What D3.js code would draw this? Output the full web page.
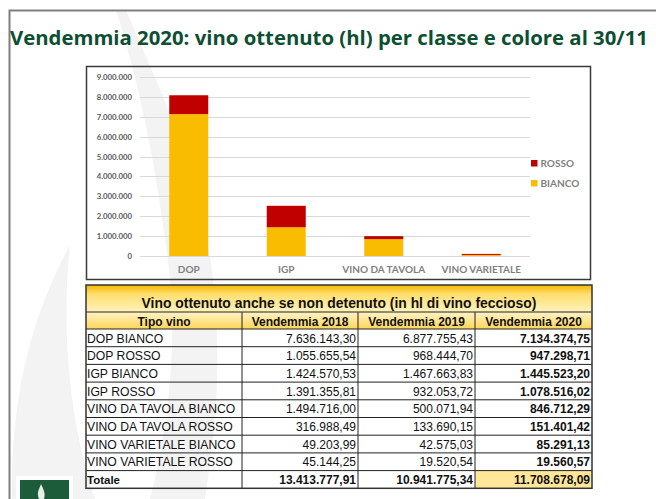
<!DOCTYPE html>
<html>
<head>
<meta charset="utf-8">
<script src="https://cdn.jsdelivr.net/npm/d3@7"></script>
<style>
  body { margin: 0; background: #fff; }
  svg { display: block; }
</style>
</head>
<body>
<div id="slide"></div>
<script>
// chart data (hl, vendemmia 2020)
const categories = ["DOP", "IGP", "VINO DA TAVOLA", "VINO VARIETALE"];
const bianco = [7134374.75, 1445523.20, 846712.29, 85291.13];
const rosso = [947298.71, 1078516.02, 151401.42, 19560.57];
const yTicks = [0, 1e6, 2e6, 3e6, 4e6, 5e6, 6e6, 7e6, 8e6, 9e6];

// table data
const tipoVino = ["DOP BIANCO", "DOP ROSSO", "IGP BIANCO", "IGP ROSSO",
  "VINO DA TAVOLA BIANCO", "VINO DA TAVOLA ROSSO", "VINO VARIETALE BIANCO", "VINO VARIETALE ROSSO"];
const vend2018 = [7636143.30, 1055655.54, 1424570.53, 1391355.81, 1494716.00, 316988.49, 49203.99, 45144.25];
const vend2019 = [6877755.43, 968444.70, 1467663.83, 932053.72, 500071.94, 133690.15, 42575.03, 19520.54];
const vend2020 = [7134374.75, 947298.71, 1445523.20, 1078516.02, 846712.29, 151401.42, 85291.13, 19560.57];
const totali = [13413777.91, 10941775.34, 11708678.09];
const colHeaders = ["Tipo vino", "Vendemmia 2018", "Vendemmia 2019", "Vendemmia 2020"];

const width = 656, height = 499;
const it = d3.formatLocale({decimal: ",", thousands: ".", grouping: [3], currency: ["€", ""]});
const fmtInt = it.format(",.0f");
const fmtDec = it.format(",.2f");

const svg = d3.select("#slide").append("svg")
    .attr("width", width)
    .attr("height", height);

const defs = svg.append("defs");

// faint watermark flames in the background
const wm = svg.append("g").attr("fill", "#f3f3f3");
wm.append("path")
    .attr("d", "M126,10 C150,70 205,170 215,300 C222,390 212,450 205,499 L150,499 C170,420 180,330 165,240 C155,160 138,80 116,10 Z");
wm.append("path")
    .attr("d", "M70,245 C40,300 10,380 12,499 L95,499 C72,430 60,340 70,245 Z");

// slide frame
svg.append("path")
    .attr("d", "M9.5,499 L9.5,10.5 L656,10.5")
    .attr("fill", "none")
    .attr("stroke", "#7f7f7f")
    .attr("stroke-width", 2);

// title
svg.append("text")
    .attr("x", 10)
    .attr("y", 45)
    .attr("font-family", "'Open Sans', sans-serif")
    .attr("font-weight", 700)
    .attr("font-size", 19.5)
    .attr("fill", "#0d4f32")
    .attr("textLength", 638)
    .attr("lengthAdjust", "spacingAndGlyphs")
    .text("Vendemmia 2020: vino ottenuto (hl) per classe e colore al 30/11");

// ---- stacked bar chart ----
const chartBox = {x: 86.5, y: 66.5, w: 504, h: 213};
svg.append("rect")
    .attr("x", chartBox.x).attr("y", chartBox.y)
    .attr("width", chartBox.w).attr("height", chartBox.h)
    .attr("fill", "none")
    .attr("stroke", "#3a3a3a")
    .attr("stroke-width", 1.5);

const x = d3.scaleBand()
    .domain(categories)
    .range([140, 530])
    .paddingInner(0.6)
    .paddingOuter(0.3);

const y = d3.scaleLinear()
    .domain([0, 9e6])
    .range([256, 77]);

const grid = svg.append("g");
grid.selectAll("line")
    .data(yTicks)
    .join("line")
    .attr("x1", 140).attr("x2", 530)
    .attr("y1", d => Math.round(y(d)) + 0.5)
    .attr("y2", d => Math.round(y(d)) + 0.5)
    .attr("stroke", "#d9d9d9");

const yAxis = svg.append("g")
    .attr("transform", "translate(132,0)")
    .call(d3.axisLeft(y).tickValues(yTicks).tickFormat(fmtInt).tickSize(0).tickPadding(0));
yAxis.select(".domain").remove();
yAxis.selectAll("text")
    .attr("font-family", "Lato, sans-serif")
    .attr("font-weight", "bold")
    .attr("font-size", 7.8)
    .attr("fill", "#595959");

const series = [
  {name: "BIANCO", values: bianco, color: "#f9bc00"},
  {name: "ROSSO", values: rosso, color: "#c00000"}
];
const stackData = categories.map((c, i) => ({cat: c, BIANCO: bianco[i], ROSSO: rosso[i]}));
const stacked = d3.stack().keys(series.map(s => s.name))(stackData);

const bars = svg.append("g");
bars.selectAll("g")
    .data(stacked)
    .join("g")
    .attr("fill", (d, i) => series[i].color)
    .selectAll("rect")
    .data(d => d)
    .join("rect")
    .attr("x", d => x(d.data.cat))
    .attr("width", x.bandwidth())
    .attr("y", d => y(d[1]))
    .attr("height", d => Math.max(1, y(d[0]) - y(d[1])));

const xAxis = svg.append("g")
    .attr("transform", "translate(0,256)")
    .call(d3.axisBottom(x).tickSize(0).tickPadding(10));
xAxis.select(".domain").remove();
xAxis.selectAll("text")
    .attr("font-family", "Lato, sans-serif")
    .attr("font-weight", "bold")
    .attr("font-size", 10)
    .attr("fill", "#7f7f7f");

// legend (ROSSO on top)
const legend = svg.append("g").attr("transform", "translate(531,160)");
const legItems = legend.selectAll("g")
    .data(series.slice().reverse())
    .join("g")
    .attr("transform", (d, i) => `translate(0,${i * 20})`);
legItems.append("rect")
    .attr("width", 6.5).attr("height", 6.5)
    .attr("fill", d => d.color);
legItems.append("text")
    .attr("x", 9.5).attr("y", 7)
    .attr("font-family", "Lato, sans-serif")
    .attr("font-weight", "bold")
    .attr("font-size", 10)
    .attr("fill", "#7f7f7f")
    .text(d => d.name);

// ---- table ----
const cols = [86, 242, 358, 475, 592];
const tTop = 285, titleH = 27, headH = 17;
const rowH = 17.7;
const bodyTop = tTop + titleH + headH;
const nRows = tipoVino.length + 1;
const tBottom = bodyTop + nRows * rowH;

const g1 = defs.append("linearGradient").attr("id", "gTitle").attr("x1", 0).attr("y1", 0).attr("x2", 0).attr("y2", 1);
g1.append("stop").attr("offset", "0%").attr("stop-color", "#f6b800");
g1.append("stop").attr("offset", "35%").attr("stop-color", "#ffdf70");
g1.append("stop").attr("offset", "100%").attr("stop-color", "#fff2bd");
const g2 = defs.append("linearGradient").attr("id", "gHead").attr("x1", 0).attr("y1", 0).attr("x2", 0).attr("y2", 1);
g2.append("stop").attr("offset", "0%").attr("stop-color", "#fff3c6");
g2.append("stop").attr("offset", "100%").attr("stop-color", "#ffd65a");

const table = svg.append("g")
    .attr("font-family", "'Liberation Sans', Arial, sans-serif")
    .attr("fill", "#111");

table.append("rect")
    .attr("x", cols[0]).attr("y", tTop)
    .attr("width", cols[4] - cols[0]).attr("height", titleH)
    .attr("fill", "url(#gTitle)");
table.append("rect")
    .attr("x", cols[0]).attr("y", tTop + titleH)
    .attr("width", cols[4] - cols[0]).attr("height", headH)
    .attr("fill", "url(#gHead)");
// highlighted total 2020
table.append("rect")
    .attr("x", cols[3]).attr("y", bodyTop + (nRows - 1) * rowH)
    .attr("width", cols[4] - cols[3]).attr("height", rowH)
    .attr("fill", "#ffe699");

table.append("text")
    .attr("x", (cols[0] + cols[4]) / 2)
    .attr("y", tTop + 22.5)
    .attr("text-anchor", "middle")
    .attr("font-weight", "bold")
    .attr("font-size", 13.9)
    .text("Vino ottenuto anche se non detenuto (in hl di vino feccioso)");

table.selectAll(".colhead")
    .data(colHeaders)
    .join("text")
    .attr("class", "colhead")
    .attr("x", (d, i) => (cols[i] + cols[i + 1]) / 2)
    .attr("y", tTop + titleH + 13.5)
    .attr("text-anchor", "middle")
    .attr("font-weight", "bold")
    .attr("font-size", 12)
    .text(d => d);

const rows = tipoVino.map((t, i) => ({label: t, v: [vend2018[i], vend2019[i], vend2020[i]], total: false}));
rows.push({label: "Totale", v: totali, total: true});

const rowG = table.selectAll(".row")
    .data(rows)
    .join("g")
    .attr("class", "row")
    .attr("transform", (d, i) => `translate(0,${bodyTop + i * rowH})`);
rowG.append("text")
    .attr("x", cols[0] + 1)
    .attr("y", 13.5)
    .attr("font-size", d => d.total ? 11.5 : 12.2)
    .attr("font-weight", d => d.total ? "bold" : "normal")
    .text(d => d.label);
rowG.selectAll(".num")
    .data(d => d.v.map((v, j) => ({v, j, total: d.total})))
    .join("text")
    .attr("class", "num")
    .attr("x", d => cols[d.j + 2] - 2)
    .attr("y", 13.5)
    .attr("text-anchor", "end")
    .attr("font-size", 12)
    .attr("font-weight", d => (d.total || d.j === 2) ? "bold" : "normal")
    .text(d => fmtDec(d.v));

// grid lines
const lines = table.append("g").attr("stroke", "#222").attr("stroke-width", 1);
const hLines = [tTop + titleH, tTop + titleH + headH].concat(d3.range(1, nRows).map(i => bodyTop + i * rowH));
lines.selectAll(".h")
    .data(hLines)
    .join("line")
    .attr("x1", cols[0]).attr("x2", cols[4])
    .attr("y1", d => d).attr("y2", d => d);
lines.selectAll(".v")
    .data(cols.slice(1, 4))
    .join("line")
    .attr("x1", d => d).attr("x2", d => d)
    .attr("y1", tTop + titleH).attr("y2", tBottom);
table.append("rect")
    .attr("x", cols[0]).attr("y", tTop)
    .attr("width", cols[4] - cols[0]).attr("height", tBottom - tTop)
    .attr("fill", "none")
    .attr("stroke", "#333")
    .attr("stroke-width", 1.5);

// logo stub bottom-left
svg.append("rect")
    .attr("x", 16).attr("y", 476).attr("width", 57).attr("height", 30)
    .attr("fill", "#fff");
svg.append("rect")
    .attr("x", 20).attr("y", 480).attr("width", 49).attr("height", 25)
    .attr("fill", "#1d5c3b");
svg.append("path")
    .attr("d", "M39,499 C36,492 40,488 41,484 C43,489 46,493 44,499 Z")
    .attr("fill", "#e8efe9");
</script>
</body>
</html>
